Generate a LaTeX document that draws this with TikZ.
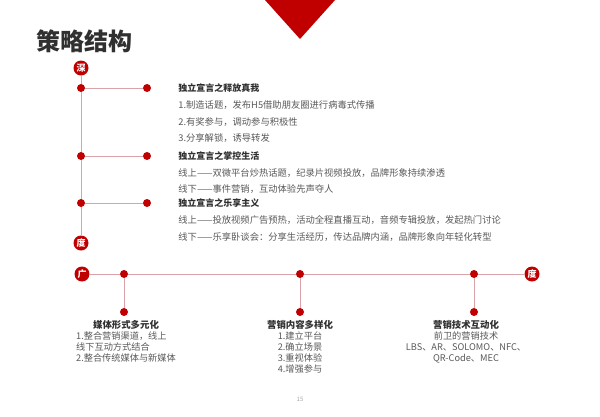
\documentclass[tikz,border=0pt]{standalone}
\usepackage{fontspec}
\setmainfont{Noto Sans CJK SC}
\usetikzlibrary{positioning}
\definecolor{mkred}{HTML}{C00000}
\definecolor{lnred}{HTML}{D9A3AA}
\definecolor{headgray}{HTML}{303030}
\definecolor{bodygray}{HTML}{595959}

\begin{document}
\begin{tikzpicture}[x=1pt, y=-1pt, line width=0.8pt,
    axis/.style={draw=lnred, line width=0.8pt},
    dot/.style={circle, fill=mkred, inner sep=0pt, minimum size=8pt},
    endmark/.style={circle, fill=mkred, inner sep=0pt, minimum size=15pt,
                    text=white, font=\fontsize{9}{9}\selectfont\bfseries},
    head/.style={anchor=west, inner sep=0pt, text=headgray,
                 font=\fontsize{9}{9}\selectfont\bfseries},
    body/.style={anchor=west, inner sep=0pt, text=bodygray,
                 font=\fontsize{9.3}{9.3}\selectfont},
    subhead/.style={inner sep=0pt, text=headgray,
                    font=\fontsize{9.4}{11}\selectfont\bfseries},
    subbody/.style={inner sep=0pt, text=bodygray,
                    font=\fontsize{9.2}{11}\selectfont}]
  \useasboundingbox[fill=white] (0,0) rectangle (600,416);
  % corner mark and title
  \fill[mkred] (265,0) -- (335,0) -- (300,39) -- cycle;
  \node[anchor=west, inner sep=0pt, text=headgray,
        font=\fontsize{24}{24}\selectfont\bfseries] (title) at (36,41) {策略结构};
  % vertical axis
  \node[endmark] (deep) at (81,68) {深};
  \node[endmark] (depth) at (81,243) {度};
  \foreach \n/\y in {1/88, 2/156, 3/203}{
    \node[dot] (v\n) at (81,\y) {};
    \node[dot] (b\n) at (147,\y) {};
    \draw[axis] (v\n) -- (b\n);
  }
  \draw[axis] (deep) -- (v1) -- (v2) -- (v3) -- (depth);
  % horizontal axis
  \node[endmark] (wide) at (82,274) {广};
  \node[endmark] (degree) at (532,274) {度};
  \foreach \n/\x in {1/124, 2/300, 3/474}{
    \node[dot] (h\n) at (\x,274) {};
    \node[dot] (l\n) at (\x,312) {};
    \draw[axis] (h\n) -- (l\n);
  }
  \draw[axis] (wide) -- (h1) -- (h2) -- (h3) -- (degree);
  % depth texts
  \node[head] (t1) at (178,88) {独立宣言之释放真我};
  \node[body] (t1a) at (178,105) {1.制造话题，发布H5借助朋友圈进行病毒式传播};
  \node[body] (t1b) at (178,122) {2.有奖参与，调动参与积极性};
  \node[body] (t1c) at (178,138) {3.分享解锁，诱导转发};
  \node[head] (t2) at (178,156) {独立宣言之掌控生活};
  \node[body] (t2a) at (178,173) {线上——双微平台炒热话题，纪录片视频投放，品牌形象持续渗透};
  \node[body] (t2b) at (178,189) {线下——事件营销，互动体验先声夺人};
  \node[head] (t3) at (178,203) {独立宣言之乐享主义};
  \node[body] (t3a) at (178,220) {线上——投放视频广告预热，活动全程直播互动，音频专辑投放，发起热门讨论};
  \node[body] (t3b) at (178,237) {线下——乐享卧谈会：分享生活经历，传达品牌内涵，品牌形象向年轻化转型};
  % breadth texts
  \node[subhead] (m1) at (126,325) {媒体形式多元化};
  \node[subbody, align=left, below=1pt of m1] (m1b)
    {1.整合营销渠道，线上\\线下互动方式结合\\2.整合传统媒体与新媒体};
  \node[subhead] (m2) at (300,325) {营销内容多样化};
  \node[subbody, align=center, below=1pt of m2] (m2b)
    {1.建立平台\\2.确立场景\\3.重视体验\\4.增强参与};
  \node[subhead] (m3) at (466,325) {营销技术互动化};
  \node[subbody, align=center, below=1pt of m3] (m3b)
    {前卫的营销技术\\LBS、AR、SOLOMO、NFC、\\QR-Code、MEC};
  % page number
  \node[text=gray!70, font=\fontsize{6}{6}\selectfont] (page) at (300,399) {15};
\end{tikzpicture}
\end{document}
